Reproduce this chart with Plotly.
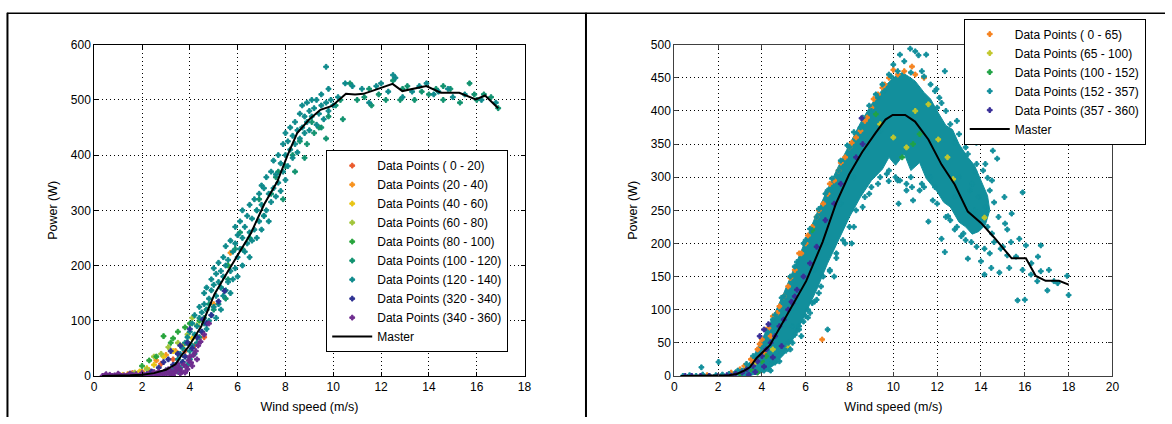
import plotly.graph_objects as go

# ---------------- LEFT CHART DATA ----------------
L_master_x = [0.33, 1.0, 1.5, 2.0, 2.5, 3.0, 3.4, 3.65, 3.93, 4.48, 5.03, 5.59, 6.0, 6.56, 7.11, 7.66, 8.08, 8.49,
              8.98, 9.46, 9.95, 10.53, 10.91, 11.26, 11.6, 11.95, 12.48, 12.89, 13.33, 13.89, 14.5, 15.27, 15.96,
              16.35, 16.9]
L_master_y = [0, 0, 1, 2, 5, 11, 21, 37, 52, 90, 148, 189, 218, 259, 311, 352, 399, 440,
              464, 482, 489, 511, 510, 511, 516, 521, 529, 516, 520, 525, 513, 513, 501,
              508, 485]

L_pts_0_20 = [(1.0, 2), (1.6, 5), (2.3, 10), (2.8, 22), (3.3, 30), (3.8, 45), (4.2, 55), (4.6, 70)]
L_pts_20_40 = [(1.4, 3), (2.0, 8), (2.6, 28), (3.0, 38), (3.4, 45), (3.9, 60), (4.4, 70), (5.7, 223), (5.0, 130)]
L_pts_40_60 = [(1.2, 2), (1.9, 8), (2.5, 20), (2.9, 35), (3.3, 45), (3.7, 55), (4.1, 68), (2.2, 14)]
L_pts_60_80 = [(1.7, 6), (2.2, 12), (2.8, 40), (3.1, 52), (3.5, 60), (3.9, 75), (4.3, 92), (2.5, 35), (4.1, 105)]
L_pts_80_100 = [(1.5, 4), (2.0, 18), (2.6, 35), (2.9, 72), (3.2, 60), (3.5, 80), (3.8, 88), (4.0, 95), (4.4, 100),
                (4.7, 120), (5.6, 200), (2.3, 28), (3.3, 68)]
L_pts_100_120 = [(3.0, 10), (3.5, 40), (3.9, 60), (4.3, 70), (4.6, 105), (5.0, 120), (5.3, 160), (5.6, 175),
                 (5.9, 230), (6.2, 230), (6.5, 250), (6.8, 300), (7.1, 290), (7.4, 330), (7.7, 370), (8.0, 380),
                 (8.3, 400), (8.6, 425), (8.9, 420), (9.2, 440), (9.5, 450), (9.8, 470), (10.1, 490), (10.4, 465),
                 (10.7, 530), (11.0, 500), (11.3, 505), (11.6, 490), (11.9, 510), (12.2, 500), (12.5, 535),
                 (12.8, 500), (13.1, 525), (13.4, 500), (13.7, 515), (14.0, 510), (14.3, 520), (14.6, 500),
                 (14.9, 520), (15.3, 495), (15.7, 530), (16.0, 500), (16.3, 510), (16.6, 505), (16.9, 485),
                 (4.8, 130), (5.5, 140), (6.1, 260), (6.9, 320), (7.6, 360), (8.4, 370), (9.1, 460), (9.7, 430),
                 (10.3, 500), (11.5, 520), (12.9, 520), (14.6, 525), (15.9, 510), (7.9, 320), (8.8, 395),
                 (9.4, 450)]
L_pts_120_140 = [(3.2, 5), (3.3, 12), (3.4, 20), (3.5, 8), (3.5, 30), (3.6, 15), (3.6, 40), (3.7, 25), (3.7, 50),
                 (3.8, 35), (3.8, 60), (3.9, 20), (3.9, 70), (4.0, 45), (4.0, 80), (4.0, 30),
                 (4.1, 55), (4.1, 95), (4.2, 40), (4.2, 75), (4.2, 110), (4.3, 60), (4.3, 90), (4.4, 70),
                 (4.4, 105), (4.4, 125), (4.5, 80), (4.5, 115), (4.6, 95), (4.6, 130), (4.6, 150), (4.7, 85),
                 (4.7, 120), (4.7, 160), (4.8, 100), (4.8, 140), (4.9, 110), (4.9, 155), (4.9, 175), (5.0, 125),
                 (5.0, 165), (5.0, 195),
                 (5.1, 105), (5.1, 145), (5.1, 185), (5.2, 130), (5.2, 170), (5.2, 205), (5.3, 120), (5.3, 160),
                 (5.3, 190), (5.4, 145), (5.4, 180), (5.4, 215), (5.5, 155), (5.5, 200), (5.5, 235), (5.6, 170),
                 (5.6, 210), (5.7, 150), (5.7, 190), (5.7, 245), (5.8, 175), (5.8, 225), (5.9, 195), (5.9, 240),
                 (5.9, 270), (6.0, 180), (6.0, 215), (6.0, 255),
                 (6.1, 230), (6.1, 280), (6.2, 200), (6.2, 250), (6.2, 300), (6.3, 225), (6.3, 270), (6.4, 240),
                 (6.4, 290), (6.5, 215), (6.5, 260), (6.5, 310), (6.6, 245), (6.6, 285), (6.7, 265), (6.7, 320),
                 (6.8, 250), (6.8, 300), (6.9, 280), (6.9, 330), (7.0, 265), (7.0, 310), (7.0, 345),
                 (7.1, 290), (7.1, 340), (7.2, 300), (7.2, 360), (7.3, 280), (7.3, 330), (7.4, 315), (7.4, 370),
                 (7.5, 340), (7.5, 390), (7.6, 325), (7.6, 365), (7.7, 350), (7.7, 400), (7.8, 335), (7.8, 385),
                 (7.9, 370), (7.9, 420), (8.0, 355), (8.0, 400), (8.0, 440),
                 (8.1, 380), (8.1, 425), (8.2, 410), (8.2, 450), (8.3, 395), (8.3, 435), (8.4, 420), (8.4, 460),
                 (8.5, 405), (8.5, 445), (8.6, 430), (8.6, 475), (8.7, 450), (8.7, 490), (8.8, 440), (8.8, 470),
                 (8.9, 460), (8.9, 495), (9.0, 445), (9.0, 480),
                 (9.1, 470), (9.1, 500), (9.2, 485), (9.3, 455), (9.3, 500), (9.4, 475), (9.5, 490), (9.5, 510),
                 (9.6, 465), (9.7, 495), (9.8, 520), (9.8, 480), (9.9, 500), (10.0, 490),
                 (9.7, 560), (10.2, 505), (10.5, 530), (10.8, 525), (11.2, 520), (11.5, 495), (11.8, 525),
                 (12.0, 530), (12.3, 515), (12.5, 545), (12.6, 540), (12.9, 505), (13.3, 515), (13.6, 525),
                 (13.9, 530), (14.2, 510), (14.4, 515), (14.8, 520), (15.0, 505), (15.5, 510), (16.2, 500),
                 (16.8, 495)]
L_pts_320_340 = [(2.4, 8), (2.7, 15), (2.9, 25), (3.1, 30), (3.3, 20), (3.5, 40), (3.6, 55), (3.8, 35), (3.9, 60),
                 (4.1, 50), (4.3, 70), (4.5, 80), (4.7, 95), (4.9, 110), (5.2, 135), (3.2, 45), (3.7, 25),
                 (4.0, 85), (2.2, 3), (1.6, 1), (5.45, 154), (4.55, 102)]
L_pts_340_360 = [(0.35, 0), (0.45, 1), (0.55, 0), (0.65, 2), (0.75, 0), (0.85, 1), (0.95, 0), (1.05, 2), (1.15, 0),
                 (1.25, 1), (1.35, 0), (1.45, 2), (1.55, 0), (1.65, 1), (1.75, 3), (1.85, 0), (1.95, 2), (2.05, 0),
                 (2.15, 1), (2.25, 3), (2.35, 0), (2.45, 2), (2.55, 4), (2.65, 1), (2.75, 3), (2.85, 5), (2.95, 2),
                 (3.05, 6), (3.15, 3), (3.25, 8), (3.35, 5), (3.45, 10), (3.55, 14), (3.65, 9), (3.75, 20),
                 (3.85, 16), (3.95, 28), (4.05, 24), (4.15, 38), (4.25, 45), (4.35, 55), (4.45, 62), (0.5, 3),
                 (1.0, 4), (1.5, 4), (2.0, 5), (2.5, 7), (3.0, 10), (3.5, 22), (3.3, 0), (3.6, 4), (3.9, 12),
                 (4.1, 18), (4.3, 30), (4.6, 75), (4.8, 95), (2.7, 8), (3.1, 12), (3.4, 15), (3.8, 6), (4.0, 35)]

L_names = ["Data Points ( 0 - 20)", "Data Points (20 - 40)", "Data Points (40 - 60)", "Data Points (60 - 80)",
           "Data Points (80 - 100)", "Data Points (100 - 120)", "Data Points (120 - 140)",
           "Data Points (320 - 340)", "Data Points (340 - 360)"]
L_series = [L_pts_0_20, L_pts_20_40, L_pts_40_60, L_pts_60_80, L_pts_80_100, L_pts_100_120, L_pts_120_140,
            L_pts_320_340, L_pts_340_360]

L_xticks = [0, 2, 4, 6, 8, 10, 12, 14, 16, 18]
L_yticks = [0, 100, 200, 300, 400, 500, 600]

# ---------------- RIGHT CHART DATA ----------------
R_master_x = [0.3, 1.0, 2.0, 2.5, 2.85, 3.2, 3.45, 3.76, 4.36, 5.11, 6.02, 6.77, 7.38, 7.98, 8.58, 9.19, 9.64,
              9.97, 10.54, 10.99, 11.6, 12.2, 12.8, 13.4, 14.0, 14.6, 15.4, 16.05, 16.5, 16.95, 17.56, 18.0]
R_master_y = [0, 0, 0, 1, 3, 8, 13, 27, 46, 90, 143, 202, 260, 304, 338, 367, 387,
              394, 394, 384, 357, 319, 289, 248, 231, 209, 177.5, 177.5, 151, 143.5, 143.5, 137.7]

# outline of the solid mass of (152 - 357) points
R_core_152_357 = [(3.0, 0), (3.5, 1), (4.0, 5), (4.5, 15), (5.0, 32), (5.5, 60), (6.0, 95), (6.5, 130),
                  (7.0, 170), (7.5, 205), (8.0, 240), (8.5, 270), (9.0, 295), (9.5, 312), (9.8, 330),
                  (10.1, 318), (10.5, 335), (10.8, 310), (11.2, 322), (11.5, 298), (12.0, 278), (12.3, 262),
                  (12.6, 255), (13.0, 232), (13.3, 225), (13.6, 214), (13.9, 218), (14.2, 228), (14.4, 250),
                  (14.3, 272), (14.0, 296), (13.7, 318), (13.4, 330), (13.0, 350), (12.7, 372), (12.4, 378),
                  (12.0, 400), (11.7, 418), (11.4, 428), (11.0, 445), (10.7, 452), (10.4, 458), (10.0, 450),
                  (9.7, 440), (9.4, 428), (9.0, 410), (8.5, 382), (8.0, 350), (7.5, 317), (7.0, 282), (6.5, 245),
                  (6.0, 205), (5.5, 165), (5.0, 125), (4.5, 88), (4.0, 55), (3.5, 22), (3.0, 6), (2.5, 2)]

R_pts_0_65 = [(3.2, 15), (3.5, 25), (3.8, 40), (4.0, 55), (4.2, 70), (4.5, 90), (4.8, 105), (5.0, 120),
              (5.2, 135), (5.5, 160), (5.8, 185), (6.0, 200), (6.3, 225), (6.5, 240), (6.8, 260), (7.0, 275),
              (7.3, 295), (7.5, 310), (7.8, 330), (8.0, 345), (8.3, 360), (8.5, 370), (8.8, 390), (9.0, 405),
              (9.3, 425), (9.6, 440), (9.8, 450), (10.2, 455), (10.5, 460), (11.0, 455), (11.4, 450),
              (6.75, 55), (3.0, 10), (3.6, 20), (4.1, 35), (4.4, 60), (2.6, 5), (1.5, 1), (10.85, 467),
              (4.7, 95), (5.3, 148), (6.1, 212), (7.1, 290), (5.7, 185), (6.6, 250), (7.6, 322), (8.1, 352),
              (8.7, 385), (9.1, 418), (9.5, 435), (10.0, 462), (4.3, 72), (3.9, 48)]
R_pts_65_100 = [(5.2, 44), (14.16, 239), (12.05, 357), (12.47, 330), (12.73, 297), (10.0, 360), (10.6, 345),
                (9.4, 380), (11.0, 400), (4.5, 40), (3.3, 12), (3.7, 20), (11.6, 410)]
R_pts_100_152 = [(10.9, 350), (10.4, 330), (3.0, 3), (3.5, 10), (4.0, 22), (4.2, 30), (6.3, 220), (9.2, 395),
                 (11.2, 365), (3.8, 5)]
R_pts_152_357 = [(9.8, 455), (10.0, 470), (10.2, 460), (10.5, 475), (10.77, 494), (11.15, 484), (11.5, 485),
                 (12.35, 460), (11.97, 433), (10.3, 485), (11.0, 490), (10.8, 458), (11.4, 452), (11.9, 430),
                 (12.1, 420), (12.4, 400), (11.7, 440), (11.3, 460),
                 (12.8, 352), (13.79, 352), (14.54, 340), (14.74, 328), (13.7, 309), (14.3, 299), (15.9, 277),
                 (15.07, 270), (11.6, 233), (12.2, 207), (12.35, 187), (12.8, 221), (13.1, 211), (13.56, 202),
                 (13.4, 177), (14.0, 173), (14.16, 153), (14.47, 163), (14.84, 156), (15.2, 221), (15.37, 202),
                 (15.75, 207), (15.2, 182), (16.05, 197), (16.73, 197), (15.29, 163), (16.28, 153), (16.57, 143),
                 (17.03, 129), (15.67, 114), (16.73, 158), (17.93, 151), (18.0, 122), (17.33, 143), (14.6, 202),
                 (14.16, 192), (14.9, 192), (12.5, 241), (11.9, 285), (10.85, 285), (9.79, 294), (10.24, 260),
                 (7.0, 70), (16.0, 115), (1.24, 13), (2.02, 21),
                 (4.3, 10), (4.6, 20), (4.9, 35), (5.2, 50), (5.5, 62), (5.7, 75), (6.0, 90), (6.3, 110),
                 (6.6, 125), (6.8, 150), (7.1, 160), (7.4, 185), (7.7, 205), (8.0, 225), (8.3, 250), (8.7, 270),
                 (9.0, 285), (9.4, 300), (9.8, 310), (10.2, 295), (10.6, 290), (11.2, 280), (11.8, 265),
                 (12.4, 240), (12.9, 225), (13.3, 205), (6.1, 100), (5.4, 75), (5.8, 60), (7.3, 150), (8.1, 200),
                 (4.5, 85), (5.0, 120), (5.5, 165), (6.0, 205), (6.5, 240), (7.0, 280), (7.5, 310), (8.0, 345),
                 (8.5, 375), (9.0, 400), (9.3, 420), (9.6, 430), (12.0, 405), (12.6, 380), (13.0, 365),
                 (13.4, 335), (13.8, 320),
                 (13.6, 290), (13.9, 270), (14.2, 255), (14.4, 280), (14.8, 240), (15.1, 230), (15.4, 245),
                 (13.7, 250), (14.0, 230), (14.5, 215), (15.0, 195), (15.6, 180), (15.9, 160), (16.3, 170),
                 (16.6, 180), (17.1, 160), (17.5, 140), (13.2, 260), (12.8, 270), (13.0, 300), (13.5, 280),
                 (14.1, 310), (14.3, 225), (10.1, 300), (10.6, 280), (11.3, 290), (11.7, 300), (10.9, 265),
                 (0.4, 0), (0.7, 1), (1.0, 0), (1.3, 2), (1.6, 0), (1.9, 1), (2.2, 2), (2.5, 3), (2.8, 5),
                 (3.1, 8), (3.4, 12), (3.7, 6), (3.9, 25), (4.1, 8), (4.4, 18), (4.7, 28), (5.0, 45),
                 (5.3, 40), (5.6, 68), (5.9, 82), (6.2, 95), (6.5, 115), (6.4, 160), (6.9, 200), (7.6, 260),
                 (8.2, 300), (8.8, 340), (9.4, 370), (3.6, 30), (3.3, 18), (2.9, 8),
                 (4.2, 68), (4.6, 92), (4.9, 118), (5.3, 150), (5.6, 172), (5.9, 200), (6.2, 222), (6.6, 252),
                 (6.9, 275), (7.2, 298), (7.6, 325), (7.9, 348), (8.2, 368), (8.6, 390), (8.9, 408), (9.2, 425),
                 (9.5, 440), (9.9, 452),
                 (4.4, 8), (4.8, 22), (5.1, 38), (5.4, 50), (5.7, 70), (6.1, 88), (6.4, 112), (6.7, 135),
                 (7.1, 158), (7.4, 178), (7.8, 200), (8.2, 225), (8.6, 255), (8.9, 275), (9.3, 290), (9.7, 305),
                 (10.3, 295), (10.8, 300), (11.4, 285), (12.0, 260), (12.6, 235), (13.2, 215), (13.8, 195),
                 (14.4, 185), (14.6, 262), (14.5, 295), (14.2, 320), (13.3, 345), (12.9, 385), (12.2, 412)]
R_pts_357_360 = [(0.5, 0), (0.8, 0), (1.2, 0), (1.6, 0), (2.0, 0), (2.4, 1), (2.8, 3), (3.1, 5), (3.3, 10),
                 (3.6, 15), (3.8, 22), (4.0, 30), (4.2, 40), (4.4, 50), (4.6, 60), (4.8, 75), (5.0, 85),
                 (5.2, 100), (5.4, 110), (5.6, 130), (5.9, 150), (6.2, 170), (6.5, 195), (6.9, 235), (7.3, 260),
                 (7.6, 290), (8.3, 330), (8.6, 350), (2.6, 0), (3.4, 2), (3.7, 6), (4.1, 14), (4.5, 28),
                 (4.9, 45), (3.9, 60), (4.3, 78), (4.1, 70), (8.55, 389), (5.35, 112), (5.5, 120)]

R_names = ["Data Points ( 0 - 65)", "Data Points (65 - 100)", "Data Points (100 - 152)",
           "Data Points (152 - 357)", "Data Points (357 - 360)"]
R_series = [R_pts_0_65, R_pts_65_100, R_pts_100_152, R_pts_152_357, R_pts_357_360]

R_xticks = [0, 2, 4, 6, 8, 10, 12, 14, 16, 18, 20]
R_yticks = [0, 50, 100, 150, 200, 250, 300, 350, 400, 450, 500]

# ---------------- STYLE ----------------
L_colors = ["#ea5a2c", "#f7921e", "#e8c414", "#a2c53b", "#27a43c", "#10926f", "#0e8a8c", "#2e3192", "#6e2c8e"]
R_colors = ["#f5821f", "#c2c72d", "#21a346", "#128f9c", "#3a2f98"]
FONT = "Liberation Sans, Arial, Helvetica, sans-serif"
MSIZE = 4


def unzip(pts):
    return [p[0] for p in pts], [p[1] for p in pts]


def mk(col):
    return dict(symbol="cross", size=MSIZE, color=col, line=dict(width=1, color=col))


fig = go.Figure()

# left chart
for name, pts, col in zip(L_names, L_series, L_colors):
    xs, ys = unzip(pts)
    fig.add_trace(go.Scatter(x=xs, y=ys, mode="markers", name=name, xaxis="x", yaxis="y", legend="legend",
                             marker=mk(col)))
fig.add_trace(go.Scatter(x=L_master_x, y=L_master_y, mode="lines", name="Master", xaxis="x", yaxis="y",
                         legend="legend", line=dict(color="black", width=2)))

# right chart: solid core of the 152-357 series first
cx, cy = unzip(R_core_152_357)
fig.add_trace(go.Scatter(x=cx, y=cy, mode="lines", fill="toself", fillcolor=R_colors[3],
                         line=dict(color=R_colors[3], width=1), showlegend=False, hoverinfo="skip",
                         xaxis="x2", yaxis="y2", legend="legend2"))
for name, pts, col in zip(R_names, R_series, R_colors):
    xs, ys = unzip(pts)
    fig.add_trace(go.Scatter(x=xs, y=ys, mode="markers", name=name, xaxis="x2", yaxis="y2", legend="legend2",
                             marker=mk(col)))
fig.add_trace(go.Scatter(x=R_master_x, y=R_master_y, mode="lines", name="Master", xaxis="x2", yaxis="y2",
                         legend="legend2", line=dict(color="black", width=2)))

W, H = 1172, 424


def ax(domain, rng, ticks, title, linecol, anchor, standoff):
    return dict(domain=domain, range=rng, tickvals=ticks, ticktext=[str(t) for t in ticks], ticks="inside",
                ticklen=4, tickcolor=linecol, showline=True, linecolor=linecol, linewidth=1, mirror="ticks",
                showgrid=True, gridcolor="black", griddash="1px,3px", gridwidth=1, zeroline=False,
                title=dict(text=title, font=dict(family=FONT, size=12.5, color="black"), standoff=standoff),
                tickfont=dict(family=FONT, size=12, color="black"), anchor=anchor, fixedrange=True)


ydom = [(H - 381.5) / H, (H - 39) / H]
leg_font = dict(family=FONT, size=12, color="black")
fig.update_layout(
    width=W, height=H, margin=dict(l=0, r=0, t=0, b=0), paper_bgcolor="white", plot_bgcolor="white",
    font=dict(family=FONT, size=12, color="black"),
    xaxis=ax([92 / W, 526 / W], [0, 18], L_xticks, "Wind speed (m/s)", "black", "y", 8),
    yaxis=ax(ydom, [0, 600], L_yticks, "Power (W)", "black", "x", 10),
    xaxis2=ax([677 / W, 1119 / W], [0, 20], R_xticks, "Wind speed (m/s)", "#404040", "y2", 8),
    yaxis2=ax(ydom, [0, 500], R_yticks, "Power (W)", "#404040", "x2", 10),
    legend=dict(x=326 / W, y=(H - 148) / H, xanchor="left", yanchor="top", bgcolor="white",
                bordercolor="black", borderwidth=1, font=leg_font, tracegroupgap=0, itemwidth=40),
    legend2=dict(x=969 / W, y=(H - 12) / H, xanchor="left", yanchor="top", bgcolor="white",
                 bordercolor="black", borderwidth=1, font=leg_font, tracegroupgap=0, itemwidth=40),
    showlegend=True,
    shapes=[
        dict(type="line", xref="paper", yref="paper", x0=4 / W, x1=1, y0=(H - 6.5) / H, y1=(H - 6.5) / H,
             line=dict(color="black", width=1.5)),
        dict(type="line", xref="paper", yref="paper", x0=4.5 / W, x1=4.5 / W, y0=0, y1=(H - 6) / H,
             line=dict(color="black", width=2)),
        dict(type="line", xref="paper", yref="paper", x0=588 / W, x1=588 / W, y0=0, y1=(H - 6) / H,
             line=dict(color="black", width=2)),
    ],
)

fig.write_html("out.html", config={"displayModeBar": False},
               post_script="document.body.style.margin='0';document.body.style.overflow='hidden';")
